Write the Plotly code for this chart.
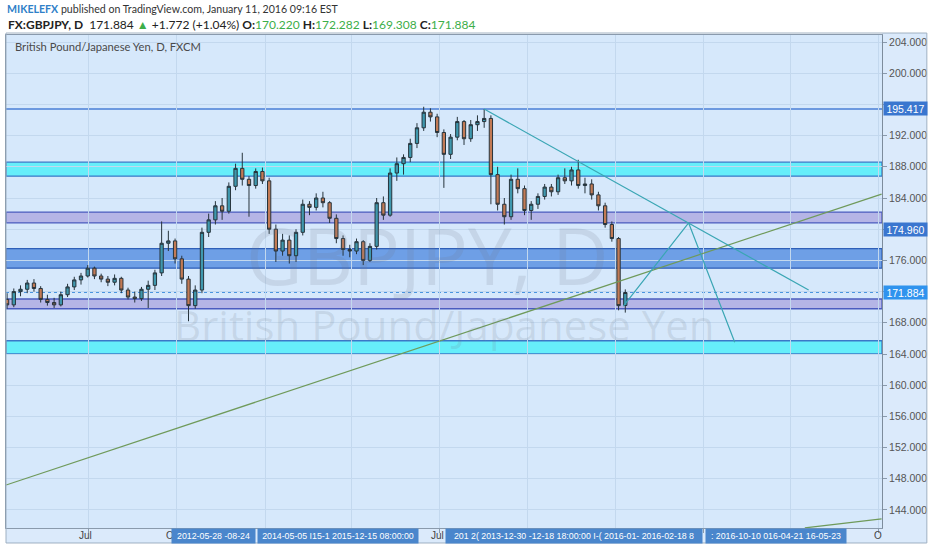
import pandas as pd
import plotly.graph_objects as go

# ---------------- data ----------------
dates = list(pd.date_range("2014-04-07", periods=93, freq="7D").strftime("%Y-%m-%d"))

opens = [171.0,170.3,172.0,172.3,173.1,172.4,171.0,170.6,170.3,171.6,
         172.6,173.5,174.0,175.0,174.0,173.6,173.2,173.7,172.2,171.3,
         171.1,172.3,172.8,174.4,178.2,178.5,176.2,173.6,170.2,172.2,
         179.6,181.2,183.0,182.3,185.5,187.8,186.4,185.6,187.4,186.2,
         180.0,177.2,178.6,176.6,179.6,183.2,182.8,184.0,183.4,181.4,
         178.8,177.4,177.2,178.4,176.0,177.8,183.4,181.8,187.2,188.4,
         189.2,191.0,193.0,195.0,194.4,192.4,189.6,191.8,193.8,191.6,
         193.4,193.8,194.2,187.0,183.2,181.6,186.4,185.2,182.4,183.2,
         184.2,185.4,184.8,186.6,186.2,187.6,185.6,185.8,184.4,183.0,
         180.6,178.8,170.220]
highs = [171.8,172.4,172.8,173.5,173.6,172.7,171.6,171.2,172.0,173.0,
         173.9,174.4,175.4,175.2,174.3,174.0,174.2,173.9,172.5,172.0,
         172.6,173.4,174.8,181.0,179.8,178.8,176.6,174.0,172.8,180.2,
         182.0,183.6,184.0,186.0,188.4,189.8,186.8,187.8,187.9,186.6,
         180.6,179.4,179.2,180.0,183.8,183.6,184.6,184.8,183.6,181.9,
         179.2,178.0,178.8,178.6,178.2,184.0,184.2,187.8,189.2,189.6,
         191.6,193.6,195.7,195.5,194.8,192.8,192.2,194.4,194.0,194.0,
         194.6,195.4,194.6,188.0,184.0,187.0,187.8,185.6,183.6,184.6,
         185.8,185.8,187.0,187.8,188.0,188.9,186.6,186.4,184.8,183.4,
         181.0,179.0,172.282]
lows = [169.8,170.0,171.4,171.8,172.0,170.6,170.2,169.9,170.1,171.3,
        172.2,172.9,173.8,173.6,173.2,172.7,172.8,171.8,171.0,170.6,
        170.8,169.9,172.2,174.0,177.2,175.6,173.0,168.2,169.8,171.8,
        179.0,180.6,181.2,182.0,185.0,185.6,181.6,185.2,185.8,179.4,
        175.8,176.6,175.6,175.8,179.2,181.8,182.4,182.8,180.8,178.2,
        176.6,176.4,176.8,175.4,175.8,177.4,181.2,181.6,186.2,187.0,
        188.6,190.4,192.6,193.8,191.8,185.3,189.0,191.4,190.8,191.2,
        192.6,193.0,183.2,182.4,180.6,181.2,184.6,181.8,181.2,182.6,
        183.8,184.2,184.4,185.8,185.6,185.2,184.6,183.8,182.4,180.2,
        178.4,169.6,169.308]
closes = [170.3,172.0,172.3,173.1,172.4,171.0,170.6,170.3,171.6,172.6,
          173.5,174.0,175.0,174.0,173.6,173.2,173.7,172.2,171.3,171.1,
          172.3,172.8,174.4,178.2,178.5,176.2,173.6,170.2,172.2,179.6,
          181.2,183.0,182.3,185.5,187.8,186.4,185.6,187.4,186.2,180.0,
          177.2,178.6,176.6,179.6,183.2,182.8,184.0,183.4,181.4,178.8,
          177.4,177.2,178.4,176.0,177.8,183.4,181.8,187.2,188.4,189.2,
          191.0,193.0,195.0,194.4,192.4,189.6,191.8,193.8,191.6,193.4,
          193.8,194.2,187.0,183.2,181.6,186.4,185.2,182.4,183.2,184.2,
          185.4,184.8,186.6,186.2,187.6,185.6,185.8,184.4,183.0,180.6,
          178.8,170.2,171.884]

# horizontal zones (low, high, kind)
zones = [(186.8, 188.6, "cyan"), (180.8, 182.2, "purple"), (175.0, 177.5, "blue"),
         (169.8, 171.05, "purple"), (164.0, 165.7, "cyan")]
resistance_level = 195.417
last_price = 171.884
marked_level_label = "174.960"
marked_level_pos = 180.0

# drawn trend lines: (dates, prices)
green_line_1 = (["2014-04-06", "2016-10-04"], [147.2, 184.5])
green_line_2 = (["2016-07-16", "2016-10-04"], [141.7, 142.85])
teal_down = (["2015-08-17", "2016-07-20"], [195.4, 172.2])
teal_zigzag = (["2016-01-09", "2016-03-17", "2016-05-04"], [170.15, 180.8, 165.5])

y_ticks = [144, 148, 152, 156, 160, 164, 168, 172, 176, 180, 184, 188, 192, 196, 200, 204]
y_tick_text = ["144.000", "148.000", "152.000", "156.000", "160.000", "164.000", "168.000", "", "176.000",
               "", "184.000", "188.000", "192.000", "", "200.000", "204.000"]
x_grid = ["2014-07-01", "2014-10-01", "2015-01-01", "2015-04-01", "2015-07-01", "2015-10-01",
          "2016-01-01", "2016-04-01", "2016-07-01", "2016-10-01"]

# ---------------- styling ----------------
BG = "#d6e8fb"
GRID = "#c3d8ee"
zone_style = {
    "cyan": dict(fill="#66eefa", line="#3b78c8"),
    "purple": dict(fill="#b5b5e6", line="#4b5cbf"),
    "blue": dict(fill="#6e9fe6", line="#2f5fb8"),
}

fig = go.Figure()

fig.add_trace(go.Candlestick(
    x=dates, open=opens, high=highs, low=lows, close=closes,
    increasing=dict(fillcolor="#3f98ae", line=dict(color="#27343c", width=1)),
    decreasing=dict(fillcolor="#c27a55", line=dict(color="#27343c", width=1)),
    whiskerwidth=0, showlegend=False, hoverinfo="skip"))

for (xs, ys), col in [(green_line_1, "#6f9a5a"), (green_line_2, "#6f9a5a"),
                      (teal_down, "#3aa6b4"), (teal_zigzag, "#3aa6b4")]:
    fig.add_trace(go.Scatter(x=xs, y=ys, mode="lines", line=dict(color=col, width=1.2),
                             showlegend=False, hoverinfo="skip"))

shapes = []
shapes.append(dict(type="rect", xref="paper", yref="paper", x0=1.0, x1=1.0512, y0=-0.0304, y1=1.004,
                   fillcolor="#dbeafb", line=dict(width=0), layer="below"))
shapes.append(dict(type="rect", xref="paper", yref="paper", x0=0, x1=1.0, y0=-0.0304, y1=0,
                   fillcolor="#dbeafb", line=dict(width=0), layer="below"))
shapes.append(dict(type="rect", xref="paper", yref="paper", x0=0, x1=1.0512, y0=-0.0304, y1=1.004,
                   fillcolor="rgba(0,0,0,0)", line=dict(color="#9fb0c2", width=1), layer="above"))
for lo, hi, kind in zones:
    st = zone_style[kind]
    shapes.append(dict(type="rect", xref="paper", yref="y", x0=0, x1=1, y0=lo, y1=hi,
                       fillcolor=st["fill"], line=dict(color=st["line"], width=1.3), layer="between"))
shapes.append(dict(type="line", xref="paper", yref="y", x0=0, x1=1, y0=resistance_level, y1=resistance_level,
                   line=dict(color="#4a7fd6", width=1.5), layer="between"))
shapes.append(dict(type="line", xref="paper", yref="y", x0=0, x1=1, y0=last_price, y1=last_price,
                   line=dict(color="#4a95e0", width=1, dash="dot"), layer="between"))

fig.update_layout(
    width=932, height=550,
    margin=dict(l=5, r=48, t=35, b=22),
    paper_bgcolor="white", plot_bgcolor=BG,
    shapes=shapes,
    xaxis=dict(type="date", range=["2014-04-05 21:00", "2016-10-04 10:00"],
               rangeslider=dict(visible=False), tickvals=x_grid, showticklabels=False,
               ticks="outside", ticklen=4, tickcolor="#8a9aac",
               showgrid=True, gridcolor=GRID, gridwidth=1, zeroline=False,
               showline=True, linecolor="#8a9aac", mirror=True),
    yaxis=dict(side="right", range=[141.69, 204.9], tickvals=y_ticks, ticktext=y_tick_text,
               ticks="outside", ticklen=4, tickcolor="#8a9aac",
               tickfont=dict(family="Liberation Sans, Arial", size=10.5, color="#555555"),
               showgrid=True, gridcolor=GRID, gridwidth=1, zeroline=False,
               showline=True, linecolor="#7d8c9c", mirror=True),
    font=dict(family="Lato, Liberation Sans", size=12, color="#333333"),
)

ann = []
GREEN = "#3cae49"
ann.append(dict(xref="paper", yref="paper", x=-0.001, y=1.0527, xanchor="left", yanchor="middle",
                showarrow=False, font=dict(family="Lato", size=10.6, color="#333333"),
                text="<span style='color:#2f80c8'><b>MIKELEFX</b></span> published on TradingView.com, January 11, 2016 09:16 EST"))
ann.append(dict(xref="paper", yref="paper", x=0.0, y=1.0223, xanchor="left", yanchor="middle",
                showarrow=False, font=dict(family="Lato", size=12, color="#222222"),
                text=("<b>FX:GBPJPY, D</b>  171.884 <span style='color:%s'>▲</span> +1.772 (+1.04%%) "
                      "<b>O:</b><span style='color:%s'>170.220</span> <b>H:</b><span style='color:%s'>172.282</span> "
                      "<b>L:</b><span style='color:%s'>169.308</span> <b>C:</b><span style='color:%s'>171.884</span>")
                % (GREEN, GREEN, GREEN, GREEN, GREEN)))
ann.append(dict(xref="paper", yref="paper", x=0.008, y=0.9757, xanchor="left", yanchor="middle",
                showarrow=False, font=dict(family="Lato", size=11.2, color="#4a4a4a"),
                text="British Pound/Japanese Yen, D, FXCM"))
# watermark
ann.append(dict(xref="paper", yref="paper", x=0.481, y=0.5538, xanchor="center", yanchor="middle",
                showarrow=False, font=dict(family="Open Sans", size=78, color="rgba(110,120,135,0.16)"),
                text="GBPJPY, D"))
ann.append(dict(xref="paper", yref="paper", x=0.5006, y=0.4118, xanchor="center", yanchor="middle",
                showarrow=False, font=dict(family="Open Sans", size=42, color="rgba(110,120,135,0.16)"),
                text="British Pound/Japanese Yen"))
# right-side price labels
for yv, txt, bg in [(resistance_level, "195.417", "#3a76cf"), (marked_level_pos, marked_level_label, "#3a76cf"),
                    (last_price, "171.884", "#2f93ee")]:
    ann.append(dict(xref="paper", yref="y", x=1.0, y=yv, xanchor="left", yanchor="middle", xshift=1,
                    showarrow=False, bgcolor=bg, width=43, height=13, borderpad=0,
                    font=dict(family="Liberation Sans, Arial", size=10.5, color="white"), text=txt))
# time-axis labels
for px, txt in [(85, "Jul"), (170, "O"), (438, "Jul"), (880, "O")]:
    ann.append(dict(xref="paper", yref="paper", x=(px - 5) / 879, y=-0.0162, xanchor="center",
                    yanchor="middle", showarrow=False,
                    font=dict(family="Liberation Sans, Arial", size=10, color="#444444"), text=txt))
for x0, x1, txt in [(172, 255, "2012-05-28 -08-24"), (258, 418, "2014-05-05 I15-1 2015-12-15 08:00:00"),
                    (447, 703, "201 2( 2013-12-30 -12-18 18:00:00 I-( 2016-01- 2016-02-18 8"),
                    (708, 848, ": 2016-10-10 016-04-21 16-05-23")]:
    ann.append(dict(xref="paper", yref="paper", x=((x0 + x1) / 2 - 5) / 879, y=-0.0162, xanchor="center",
                    yanchor="middle", showarrow=False, bgcolor="#4a86cc", width=x1 - x0, height=14,
                    borderpad=0, font=dict(family="Liberation Sans, Arial", size=8.8, color="white"), text=txt))
fig.update_layout(annotations=ann)

fig.write_html("out.html", config={"displayModeBar": False},
               post_script="document.body.style.margin='0px';")
